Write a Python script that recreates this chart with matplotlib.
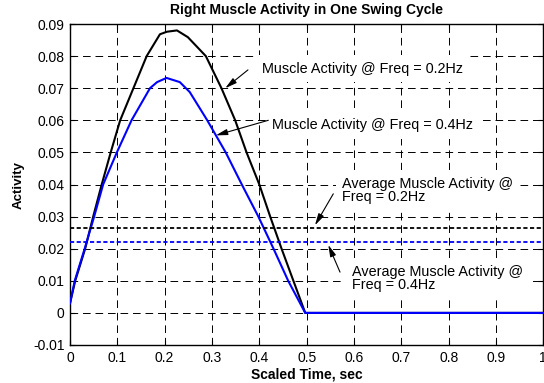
import matplotlib
matplotlib.use("Agg")
import matplotlib.pyplot as plt

plt.rcParams['font.family'] = ['Liberation Sans', 'DejaVu Sans']
plt.rcParams['lines.scale_dashes'] = False

# Muscle activity @ 0.2 Hz (black)
t_02 = [0, 0.011, 0.032, 0.049, 0.067, 0.086, 0.106, 0.134, 0.162, 0.19, 0.205,
        0.226, 0.249, 0.287, 0.32, 0.349, 0.373, 0.40, 0.423, 0.447, 0.472, 0.497, 1.0]
act_02 = [0.003, 0.01, 0.02, 0.03, 0.04, 0.05, 0.06, 0.07, 0.08, 0.0868, 0.0876,
          0.088, 0.0859, 0.08, 0.07, 0.06, 0.05, 0.04, 0.03, 0.02, 0.01, 0.0, 0.0]

# Muscle activity @ 0.4 Hz (blue)
t_04 = [0, 0.01, 0.031, 0.051, 0.070, 0.099, 0.13, 0.169, 0.184, 0.204, 0.232,
        0.253, 0.29, 0.329, 0.363, 0.398, 0.43, 0.461, 0.497, 1.0]
act_04 = [0.003, 0.01, 0.02, 0.03, 0.04, 0.05, 0.06, 0.07, 0.0719, 0.0732, 0.0719,
          0.0688, 0.06, 0.05, 0.04, 0.03, 0.02, 0.01, 0.0, 0.0]

avg_02 = 0.0265
avg_04 = 0.022

xticks = [0, 0.1, 0.2, 0.3, 0.4, 0.5, 0.6, 0.7, 0.8, 0.9, 1]
xticklabels = ['0', '0.1', '0.2', '0.3', '0.4', '0.5', '0.6', '0.7', '0.8', '0.9', '1']
yticks = [-0.01, 0, 0.01, 0.02, 0.03, 0.04, 0.05, 0.06, 0.07, 0.08, 0.09]
yticklabels = ['-0.01', '0', '0.01', '0.02', '0.03', '0.04', '0.05', '0.06', '0.07', '0.08', '0.09']

fig = plt.figure(figsize=(5.44, 3.83), dpi=100)
ax = fig.add_axes([70/544, 38/383, (543.3-70)/544, (345-24)/383])

ax.plot(t_02, act_02, color='black', lw=1.5, zorder=3)
ax.plot(t_04, act_04, color='#0000ff', lw=1.5, zorder=3)
ax.axhline(avg_02, color='black', lw=1.3, ls=(0, (3.0, 1.8)), zorder=3)
ax.axhline(avg_04, color='#0000ff', lw=1.3, ls=(0, (3.0, 1.8)), zorder=3)

ax.set_xlim(0, 1)
ax.set_ylim(-0.01, 0.09)
ax.set_xticks(xticks)
ax.set_xticklabels(xticklabels)
ax.set_yticks(yticks)
ax.set_yticklabels(yticklabels)
ax.grid(True, color='black', lw=0.7, ls=(0, (5.5, 3.5)), zorder=0)
ax.set_axisbelow(True)
ax.tick_params(direction='in', length=3.5, width=0.8, top=True, right=True,
               labelsize=10, pad=4)
for s in ax.spines.values():
    s.set_linewidth(1.0)

ax.set_title('Right Muscle Activity in One Swing Cycle', fontsize=10,
             fontweight='bold', pad=7)
ax.set_xlabel('Scaled Time, sec', fontsize=10, fontweight='bold', labelpad=2)
ax.set_ylabel('Activity', fontsize=9.5, fontweight='bold', labelpad=6)

box = dict(boxstyle='square,pad=0.45', facecolor='white', edgecolor='none')
arrow = dict(arrowstyle='-|>,head_length=0.7,head_width=0.18', color='black',
             lw=0.8, shrinkA=0, shrinkB=0)
tk = dict(fontsize=10.4, va='center', ha='left', bbox=box, zorder=2, linespacing=0.95)

ax.text(0.4057, 0.0760, 'Muscle Activity @ Freq = 0.2Hz', **tk)
ax.annotate('', xy=(0.328, 0.0700), xytext=(0.376, 0.0757), arrowprops=arrow, zorder=4)

ax.text(0.4268, 0.0585, 'Muscle Activity @ Freq = 0.4Hz', **tk)
ax.annotate('', xy=(0.308, 0.0553), xytext=(0.419, 0.0600), arrowprops=arrow, zorder=4)

ax.text(0.5747, 0.0382, 'Average Muscle Activity @\nFreq = 0.2Hz', **tk)
ax.annotate('', xy=(0.5176, 0.0273), xytext=(0.5563, 0.0371), arrowprops=arrow, zorder=4)

ax.text(0.5952, 0.0108, 'Average Muscle Activity @\nFreq = 0.4Hz', **tk)
ax.annotate('', xy=(0.5457, 0.0212), xytext=(0.5705, 0.0127), arrowprops=arrow, zorder=4)

fig.savefig('out.png', dpi=100)
